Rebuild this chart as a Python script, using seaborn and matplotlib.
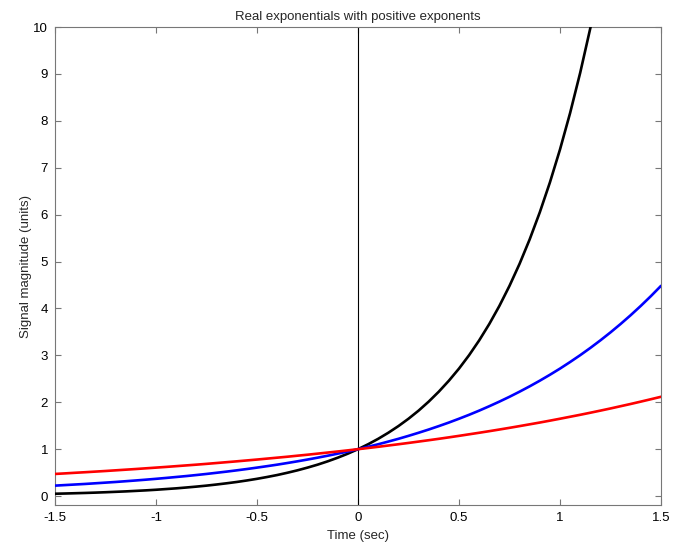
import matplotlib
matplotlib.use("Agg")
import matplotlib.pyplot as plt
import seaborn as sns
import pandas as pd

t = [-1.50, -1.45, -1.40, -1.35, -1.30, -1.25, -1.20, -1.15, -1.10, -1.05,
     -1.00, -0.95, -0.90, -0.85, -0.80, -0.75, -0.70, -0.65, -0.60, -0.55,
     -0.50, -0.45, -0.40, -0.35, -0.30, -0.25, -0.20, -0.15, -0.10, -0.05,
     0.00, 0.05, 0.10, 0.15, 0.20, 0.25, 0.30, 0.35, 0.40, 0.45,
     0.50, 0.55, 0.60, 0.65, 0.70, 0.75, 0.80, 0.85, 0.90, 0.95,
     1.00, 1.05, 1.10, 1.15, 1.20, 1.25, 1.30, 1.35, 1.40, 1.45, 1.50]
red_vals = [0.472, 0.484, 0.497, 0.509, 0.522, 0.535, 0.549, 0.563, 0.577, 0.592,
            0.607, 0.622, 0.638, 0.654, 0.670, 0.687, 0.705, 0.723, 0.741, 0.760,
            0.779, 0.799, 0.819, 0.839, 0.861, 0.882, 0.905, 0.928, 0.951, 0.975,
            1.000, 1.025, 1.051, 1.078, 1.105, 1.133, 1.162, 1.191, 1.221, 1.252,
            1.284, 1.317, 1.350, 1.384, 1.419, 1.455, 1.492, 1.530, 1.568, 1.608,
            1.649, 1.691, 1.733, 1.777, 1.822, 1.868, 1.916, 1.964, 2.014, 2.065, 2.117]
blue_vals = [0.223, 0.235, 0.247, 0.259, 0.273, 0.287, 0.301, 0.317, 0.333, 0.350,
             0.368, 0.387, 0.407, 0.427, 0.449, 0.472, 0.497, 0.522, 0.549, 0.577,
             0.607, 0.638, 0.670, 0.705, 0.741, 0.779, 0.819, 0.861, 0.905, 0.951,
             1.000, 1.051, 1.105, 1.162, 1.221, 1.284, 1.350, 1.419, 1.492, 1.568,
             1.649, 1.733, 1.822, 1.916, 2.014, 2.117, 2.226, 2.340, 2.460, 2.586,
             2.718, 2.858, 3.004, 3.158, 3.320, 3.490, 3.669, 3.857, 4.055, 4.263, 4.482]
black_vals = [0.050, 0.055, 0.061, 0.067, 0.074, 0.082, 0.091, 0.100, 0.111, 0.122,
              0.135, 0.150, 0.165, 0.183, 0.202, 0.223, 0.247, 0.273, 0.301, 0.333,
              0.368, 0.407, 0.449, 0.497, 0.549, 0.607, 0.670, 0.741, 0.819, 0.905,
              1.000, 1.105, 1.221, 1.350, 1.492, 1.649, 1.822, 2.014, 2.226, 2.460,
              2.718, 3.004, 3.320, 3.669, 4.055, 4.482, 4.953, 5.474, 6.050, 6.686,
              7.389, 8.166, 9.025, 9.974, 11.023, 12.182, 13.464, 14.880, 16.445, 18.174, 20.086]
series_names = ["black", "blue", "red"]
x_ticks = [-1.5, -1, -0.5, 0, 0.5, 1, 1.5]
x_tick_labels = ["-1.5", "-1", "-0.5", "0", "0.5", "1", "1.5"]
y_ticks = list(range(0, 11))

rows = []
for name, vals in zip(series_names, [black_vals, blue_vals, red_vals]):
    for ti, v in zip(t, vals):
        rows.append({"t": ti, "y": v, "series": name})
df = pd.DataFrame(rows)

sns.set_style("white")
plt.rcParams['font.family'] = ['Liberation Sans', 'DejaVu Sans']
plt.rcParams['xtick.direction'] = 'in'
plt.rcParams['ytick.direction'] = 'in'

fig = plt.figure(figsize=(6.77, 5.46), dpi=100)
ax = fig.add_axes([55/677, 1 - 505/546, (661-55)/677, (505-27)/546])

ax.axvline(0, color="black", lw=0.8, zorder=1)
sns.lineplot(data=df, x="t", y="y", hue="series", hue_order=series_names,
             palette={"black": "black", "blue": "#0000ff", "red": "#ff0000"},
             lw=1.9, ax=ax, legend=False, sort=False, zorder=3)

ax.set_xlim(-1.5, 1.5)
ax.set_ylim(-0.19, 10)
ax.set_xticks(x_ticks)
ax.set_xticklabels(x_tick_labels)
ax.set_yticks(y_ticks)
ax.tick_params(axis="both", which="both", top=True, right=True, left=True, bottom=True,
               labelsize=9.5, length=4, width=0.8, color="#777777", labelcolor="black", pad=5)
for s in ax.spines.values():
    s.set_color("#777777")
    s.set_linewidth(0.8)
ax.set_xlabel("Time (sec)", fontsize=9.5, labelpad=4)
ax.set_ylabel("Signal magnitude (units)", fontsize=9.5, labelpad=1)
ax.set_title("Real exponentials with positive exponents", fontsize=9.5, pad=5)

fig.savefig("out.png", dpi=100)
